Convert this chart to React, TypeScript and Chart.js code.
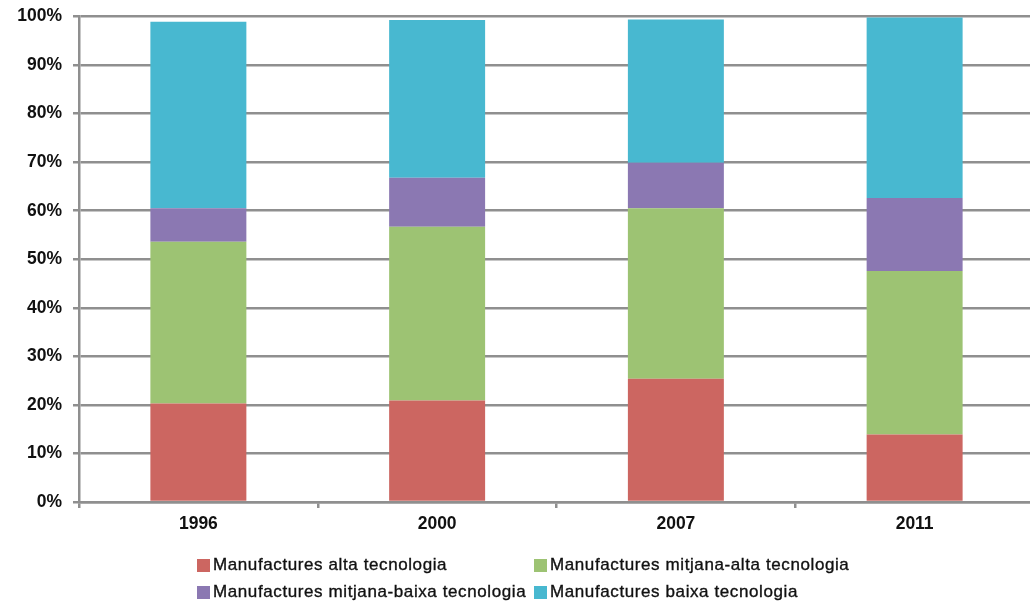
import React, { useEffect, useRef } from "react";
import { Chart, registerables } from "chart.js";

Chart.register(...registerables);

const categories = ["1996", "2000", "2007", "2011"];
const seriesNames = [
  "Manufactures alta tecnologia",
  "Manufactures mitjana-alta tecnologia",
  "Manufactures mitjana-baixa tecnologia",
  "Manufactures baixa tecnologia",
];
const altaValues = [20.3, 20.9, 25.4, 13.9];
const mitjanaAltaValues = [33.3, 35.8, 35.1, 33.7];
const mitjanaBaixaValues = [6.9, 10.1, 9.4, 15.0];
const baixaValues = [38.4, 32.5, 29.5, 37.2];
const seriesColors = ["#CC6661", "#9DC373", "#8B78B2", "#48B8D0"];
const yTicks = [0, 10, 20, 30, 40, 50, 60, 70, 80, 90, 100];

const GRID = "#8f8f8f";
const FONT = "'Liberation Sans', Arial, sans-serif";

export default function App() {
  const ref = useRef<HTMLCanvasElement | null>(null);

  useEffect(() => {
    if (!ref.current) return;
    const values = [altaValues, mitjanaAltaValues, mitjanaBaixaValues, baixaValues];
    const chart = new Chart(ref.current, {
      type: "bar",
      data: {
        labels: categories,
        datasets: seriesNames.map((name, i) => ({
          label: name,
          data: values[i],
          backgroundColor: seriesColors[i],
          borderWidth: 0,
          categoryPercentage: 1,
          barPercentage: 0.402,
        })),
      },
      options: {
        animation: false,
        responsive: false,
        devicePixelRatio: 1,
        layout: { padding: { top: 16.5, left: 0, right: 0, bottom: 0 } },
        plugins: {
          legend: { display: false },
          tooltip: { enabled: false },
        },
        scales: {
          x: {
            stacked: true,
            offset: true,
            afterFit: (s: any) => {
              s.height = 107;
              s.paddingLeft = 0;
              s.paddingRight = 0;
            },
            grid: {
              offset: true,
              drawOnChartArea: false,
              drawTicks: true,
              tickLength: 6,
              color: GRID,
              lineWidth: 2.5,
            },
            border: { display: true, color: GRID, width: 2.5 },
            ticks: {
              color: "#111",
              padding: 6,
              font: { family: FONT, size: 17.5, weight: "bold" },
            },
          },
          y: {
            stacked: true,
            min: 0,
            max: 100,
            afterFit: (s: any) => {
              s.width = 79;
              s.paddingTop = 0;
              s.paddingBottom = 0;
            },
            afterBuildTicks: (s: any) => {
              s.ticks = yTicks.map((v) => ({ value: v }));
            },
            grid: {
              color: GRID,
              lineWidth: 2.5,
              drawTicks: true,
              tickLength: 6,
            },
            border: { display: true, color: GRID, width: 2.5 },
            ticks: {
              color: "#111",
              padding: 11,
              font: { family: FONT, size: 17.5, weight: "bold" },
              callback: (v: any) => v + "%",
            },
          },
        },
      },
    });
    return () => chart.destroy();
  }, []);

  const legendItem = (i: number, left: number, top: number) => (
    <div
      key={i}
      style={{
        position: "absolute",
        left,
        top,
        height: 26,
        display: "flex",
        alignItems: "center",
        whiteSpace: "nowrap",
      }}
    >
      <span
        style={{
          display: "inline-block",
          width: 13,
          height: 13,
          background: seriesColors[i],
          marginRight: 3,
        }}
      />
      <span
        style={{
          fontFamily: FONT,
          fontSize: 17,
          color: "#111",
          letterSpacing: "0.6px",
          WebkitTextStroke: "0.35px #111",
        }}
      >
        {seriesNames[i]}
      </span>
    </div>
  );

  return (
    <div
      style={{
        position: "fixed",
        left: 0,
        top: 0,
        width: 1030,
        height: 609,
        overflow: "hidden",
        background: "#fff",
      }}
    >
      <canvas ref={ref} width={1034} height={609} style={{ display: "block" }} />
      {legendItem(0, 197, 552)}
      {legendItem(1, 534, 552)}
      {legendItem(2, 197, 579)}
      {legendItem(3, 534, 579)}
    </div>
  );
}
